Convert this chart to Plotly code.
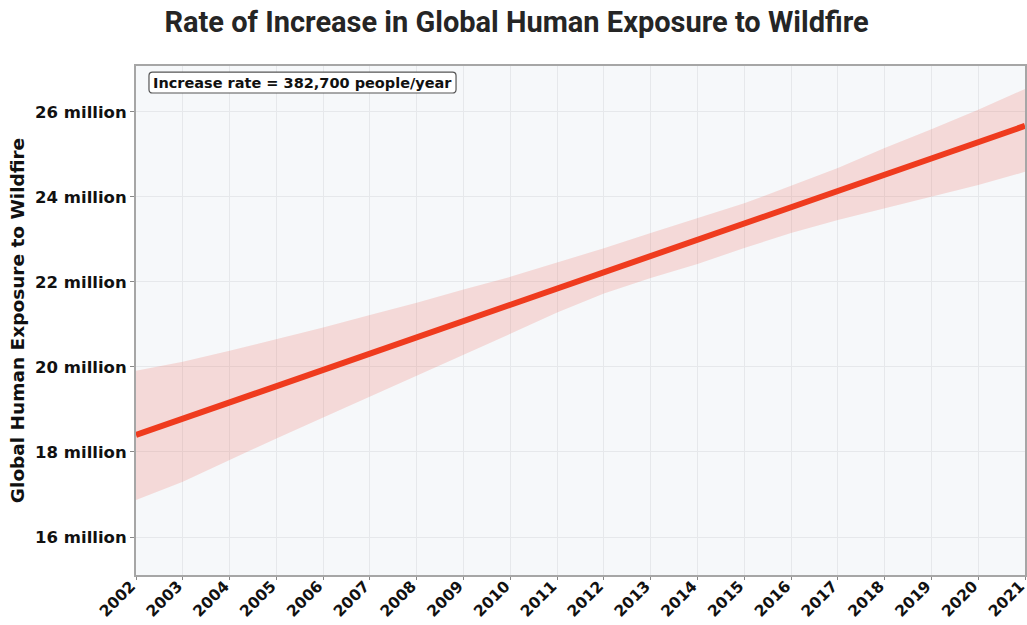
import plotly.graph_objects as go

# Years covered by the trend
years = list(range(2002, 2022))

# Fitted trend (millions of people exposed), rising 382,700 people per year
trend = [18.400, 18.783, 19.165, 19.548, 19.931, 20.314, 20.696, 21.079, 21.462, 21.844,
         22.227, 22.610, 22.992, 23.375, 23.758, 24.141, 24.523, 24.906, 25.289, 25.671]

# Confidence band around the trend (millions)
upper = [19.91, 20.12, 20.38, 20.65, 20.93, 21.22, 21.51, 21.82, 22.12, 22.46,
         22.79, 23.15, 23.50, 23.85, 24.26, 24.68, 25.15, 25.59, 26.05, 26.54]
lower = [16.87, 17.30, 17.81, 18.32, 18.81, 19.30, 19.79, 20.28, 20.78, 21.28,
         21.73, 22.09, 22.42, 22.80, 23.15, 23.46, 23.73, 24.01, 24.28, 24.59]

y_ticks = [16, 18, 20, 22, 24, 26]
y_tick_labels = [f"{v} million" for v in y_ticks]
rate_label = "Increase rate = 382,700 people/year"

fig = go.Figure()

fig.add_trace(go.Scatter(x=years, y=lower, mode="lines", line=dict(width=0),
                         hoverinfo="skip", showlegend=False))
fig.add_trace(go.Scatter(x=years, y=upper, mode="lines", line=dict(width=0),
                         fill="tonexty", fillcolor="rgba(236,110,95,0.22)",
                         hoverinfo="skip", showlegend=False))
fig.add_trace(go.Scatter(x=years, y=trend, mode="lines",
                         line=dict(color="#ef3b1e", width=6), showlegend=False))

y_tick_font = dict(family="DejaVu Sans", size=16.5, color="#111111", weight="bold")
x_tick_font = dict(family="DejaVu Sans", size=15.5, color="#111111", weight="bold")

fig.update_layout(
    width=1027, height=625,
    margin=dict(l=136, r=2, t=66, b=50),
    paper_bgcolor="white",
    plot_bgcolor="#f6f8fa",
    title=dict(text="Rate of Increase in Global Human Exposure to Wildfire",
               x=0.503, xanchor="center", y=0.965, yanchor="middle",
               font=dict(family="Roboto", size=29, color="#252525", weight="bold")),
    xaxis=dict(range=[2002, 2021], tickmode="array", tickvals=years,
               ticktext=[str(y) for y in years], tickangle=-45, automargin=False,
               ticklabeloverflow="allow", ticklabelstandoff=-9, ticklabelshift=-5,
               tickfont=x_tick_font, showgrid=True, gridcolor="#e6e8eb", gridwidth=1,
               showline=True, linecolor="#a6a6a6", linewidth=2, mirror=True,
               ticks="outside", ticklen=3, tickcolor="#888888", zeroline=False),
    yaxis=dict(range=[15.106, 27.08], tickmode="array", tickvals=y_ticks,
               ticktext=y_tick_labels, tickfont=y_tick_font, automargin=False,
               showgrid=True, gridcolor="#e6e8eb", gridwidth=1,
               showline=True, linecolor="#a6a6a6", linewidth=2, mirror=True,
               ticks="outside", ticklen=4, tickcolor="#888888", zeroline=False,
               title=dict(text="Global Human Exposure to Wildfire", standoff=6,
                          font=dict(family="DejaVu Sans", size=18.5, color="#111111",
                                    weight="bold"))),
)

# Label box with rounded corners (paper coordinates of the plot area)
bx0, bx1, by0, by1 = 0.0146, 0.360, 0.947, 0.988
rx, ry = 0.004, 0.007
box_path = (f"M {bx0+rx},{by1} L {bx1-rx},{by1} Q {bx1},{by1} {bx1},{by1-ry} "
            f"L {bx1},{by0+ry} Q {bx1},{by0} {bx1-rx},{by0} "
            f"L {bx0+rx},{by0} Q {bx0},{by0} {bx0},{by0+ry} "
            f"L {bx0},{by1-ry} Q {bx0},{by1} {bx0+rx},{by1} Z")
fig.add_shape(type="path", path=box_path, xref="paper", yref="paper",
              fillcolor="white", line=dict(color="#555555", width=1.2))

fig.add_annotation(text=rate_label, xref="paper", yref="paper",
                   x=(bx0 + bx1) / 2, y=(by0 + by1) / 2,
                   xanchor="center", yanchor="middle", showarrow=False,
                   font=dict(family="DejaVu Sans", size=14.5, color="#111111", weight="bold"))

fig.write_html("out.html")
